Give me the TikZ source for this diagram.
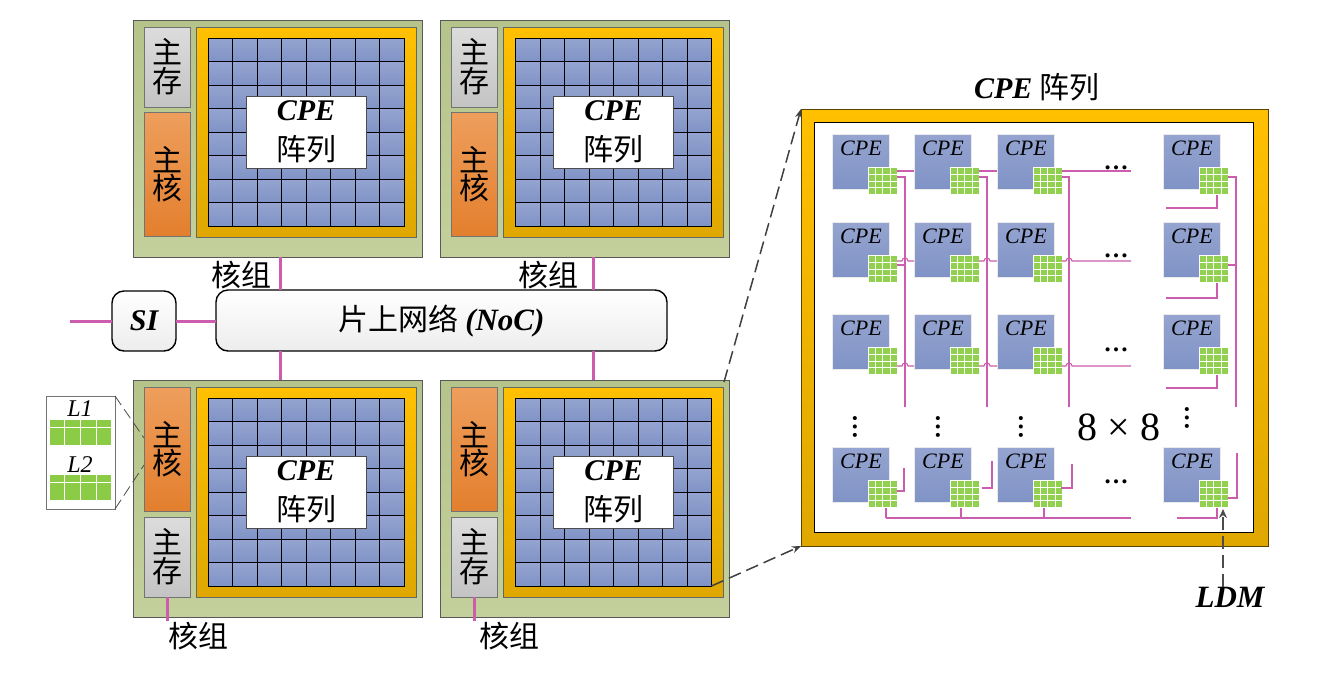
\documentclass[tikz,border=0pt]{standalone}
\usepackage{fontspec}
\setmainfont{Liberation Serif}
\newfontfamily\cjk{Noto Sans CJK SC}
\usetikzlibrary{arrows.meta}
\newcommand{\fsz}[2]{\fontsize{#1}{#2}\selectfont}
\definecolor{wirepink}{HTML}{CC5CAC}
\definecolor{grptop}{HTML}{B5C48A}
\definecolor{grpbot}{HTML}{C3D09B}
\definecolor{memtop}{HTML}{DCDCDC}
\definecolor{membot}{HTML}{C4C4C4}
\definecolor{coretop}{HTML}{EE9E5C}
\definecolor{corebot}{HTML}{E37F2E}
\definecolor{goldtop}{HTML}{FFC000}
\definecolor{goldbot}{HTML}{DFA700}
\definecolor{cpetop}{HTML}{95A4D0}
\definecolor{cpebot}{HTML}{8093C6}
\definecolor{ldmgreen}{HTML}{92D050}
\definecolor{cachegreen}{HTML}{8CCB45}
\definecolor{netbot}{HTML}{EDEDED}
\tikzset{
    box/.style={rectangle, anchor=north west, inner sep=0pt, outer sep=0pt, align=center},
    grpbox/.style={box, draw=black!65, top color=grptop, bottom color=grpbot, minimum width=289pt, minimum height=237pt},
    membox/.style={box, draw=black!55, top color=memtop, bottom color=membot, minimum width=46pt, minimum height=80pt, font=\fsz{30}{29}\cjk},
    corebox/.style={box, draw=black!55, top color=coretop, bottom color=corebot, minimum width=46pt, minimum height=124.5pt, font=\fsz{30}{28}\cjk},
    goldbox/.style={box, draw=black!60, top color=goldtop, bottom color=goldbot},
    cpecell/.style={box, draw=black, line width=1pt, top color=cpetop, bottom color=cpebot, minimum width=24.5pt, minimum height=23.5pt},
    arrbox/.style={box, draw=black!70, fill=white, minimum width=120pt, minimum height=72.5pt, font=\fsz{30}{40}},
    netbox/.style={box, draw=black, line width=1.4pt, rounded corners=12pt, top color=white, bottom color=netbot},
    link/.style={draw=wirepink, line width=3pt},
    wire/.style={draw=wirepink, line width=1.1pt},
    zhlabel/.style={inner sep=0pt, font=\fsz{30}{30}\cjk},
    cpeblock/.style={box, draw=black!8, line width=1pt, top color=cpetop, bottom color=cpebot, minimum width=57.5pt, minimum height=55.5pt},
    cpetext/.style={inner sep=0pt, font=\fsz{22}{22}\itshape},
    ldmcell/.style={box, draw=white, line width=1pt, fill=ldmgreen, minimum width=7.2pt, minimum height=6.8pt},
    lcell/.style={box, draw=white, line width=0.9pt, fill=cachegreen, minimum width=15.7pt},
    dotsh/.style={inner sep=0pt, font=\fsz{25}{25}\bfseries},
    Bdash/.style={draw=black!75, line width=1.5pt, dash pattern=on 13pt off 6pt}
}
\begin{document}
\begin{tikzpicture}[x=1pt, y=-1pt]
    \useasboundingbox (0,0) rectangle (1319,673);

    % core groups
    \foreach \g/\dx/\dy/\memy/\corey in {1/0/0/27/112, 2/307.5/0/27/112, 3/0/360/517/387, 4/307.5/360/517/387} {
        \node[grpbox] (g\g) at (133+\dx,20+\dy) {};
        \node[membox] (m\g) at (144+\dx,\memy) {主\\存};
        \node[corebox] (k\g) at (144+\dx,\corey) {主\\核};
        \node[goldbox, minimum width=220pt, minimum height=209.5pt] (au\g) at (196+\dx,27.5+\dy) {};
        \foreach \i in {0,...,7} {
            \foreach \j in {0,...,7} {
                \node[cpecell] (a\g\i\j) at (208+\dx+24.5*\i,38+\dy+23.5*\j) {};
            }
        }
        \node[arrbox] (w\g) at (246+\dx,96+\dy) {\bfseries\itshape CPE\\\cjk\mdseries\upshape 阵列};
    }

    % network
    \node[netbox, minimum width=64pt, minimum height=60pt, font=\fsz{30}{30}\bfseries\itshape] (si) at (112,291) {SI};
    \node[netbox, minimum width=451pt, minimum height=61pt, font=\fsz{30}{30}] (noc) at (216,290) {\cjk 片上网络 {\rmfamily\fsz{31}{31}\bfseries\itshape (NoC)}};

    \coordinate (ext) at (70,321);
    \coordinate (p1) at (280,0);
    \coordinate (p2) at (593,0);
    \coordinate (p3) at (167,621);
    \coordinate (p4) at (474,621);
    \draw[link] (ext) -- (ext -| si.west);
    \draw[link] (si.east |- ext) -- (noc.west |- ext);
    \draw[link] (g1.south -| p1) -- (noc.north -| p1);
    \draw[link] (g2.south -| p2) -- (noc.north -| p2);
    \draw[link] (noc.south -| p1) -- (g3.north -| p1);
    \draw[link] (noc.south -| p2) -- (g4.north -| p2);
    \draw[link] (m3.south -| p3) -- (p3);
    \draw[link] (m4.south -| p4) -- (p4);

    \node[zhlabel] (n1) at (241,275) {核组};
    \node[zhlabel] (n2) at (548,275) {核组};
    \node[zhlabel] (n3) at (198,636) {核组};
    \node[zhlabel] (n4) at (509,636) {核组};

    % cache box
    \node[box, draw=black!55, line width=1pt, fill=white, minimum width=69pt, minimum height=113pt] (cache) at (46,396) {};
    \node[inner sep=0pt, font=\fsz{24}{24}\itshape] (l1) at (80,409) {L1};
    \node[inner sep=0pt, font=\fsz{24}{24}\itshape] (l2) at (80,465) {L2};
    \foreach \q in {0,...,3} {
        \node[lcell, minimum height=8pt] (la\q) at (49+\q*15.7,419) {};
        \node[lcell, minimum height=18pt] (lb\q) at (49+\q*15.7,427) {};
        \node[lcell, minimum height=8pt] (lc\q) at (49+\q*15.7,474.5) {};
        \node[lcell, minimum height=18pt] (ld\q) at (49+\q*15.7,482.5) {};
    }
    \coordinate (kt) at (144,438);
    \coordinate (kb) at (144,465);
    \draw[black!70, line width=0.8pt, dash pattern=on 11pt off 5pt] (cache.north east) -- (kt);
    \draw[black!70, line width=0.8pt, dash pattern=on 11pt off 5pt] (cache.south east) -- (kb);

    % CPE array
    \node[goldbox, draw=black!65!goldtop, line width=1pt, minimum width=467pt, minimum height=437pt] (big) at (801,109) {};
    \node[box, draw=black, line width=1pt, fill=white, minimum width=439pt, minimum height=410pt] (inner) at (814,122) {};
    \node[inner sep=0pt, font=\fsz{30}{30}\bfseries\itshape] (title) at (1037,87) {CPE {\cjk\mdseries\upshape 阵列}};

    \foreach \r/\cy in {1/134, 2/222, 3/314, 4/447} {
        \foreach \c/\cx in {1/832, 2/914, 3/997, 4/1163} {
            \node[cpeblock] (c\r\c) at (\cx,\cy) {};
            \node[cpetext] (ct\r\c) at (\cx+29,\cy+14) {CPE};
            \foreach \i in {0,...,3} {
                \foreach \j in {0,...,3} {
                    \node[ldmcell] (d\r\c\i\j) at (\cx+36.5+7.2*\i,\cy+33.5+6.8*\j) {};
                }
            }
            \coordinate (h\r\c) at (\cx+65,\cy+37);
            \coordinate (v\r\c) at (\cx+65,\cy+43);
        }
    }
    \coordinate (h21) at (897,261);
    \coordinate (h22) at (979,261);
    \coordinate (h23) at (1062,261);
    \coordinate (h31) at (897,366);
    \coordinate (h32) at (979,366);
    \coordinate (h33) at (1062,366);
    \coordinate (s21) at (897,265);
    \coordinate (s24) at (1228,265);

    % wires of the first rows
    \coordinate (e1) at (905,407);
    \coordinate (e2) at (987,407);
    \coordinate (e3) at (1069,407);
    \coordinate (e4) at (1236,407);
    \coordinate (fr) at (1131,0);
    \foreach \c in {1,2,3,4} {
        \draw[wire] (v1\c) -| (e\c);
    }
    \draw[wire] (s21) -- (s21 -| e1);
    \draw[wire] (s24) -- (s24 -| e4);
    \draw[wire] (h11) -- (h11 -| c12.west);
    \draw[wire] (h12) -- (h12 -| c13.west);
    \draw[wire] (h13) -- (h13 -| fr);
    \foreach \r in {2,3} {
        \draw[wire] (h\r1) -- ++(5,0) arc[start angle=180, end angle=360, radius=3] -- (h\r1 -| c\r2.west);
        \draw[wire] (h\r2) -- ++(5,0) arc[start angle=180, end angle=360, radius=3] -- (h\r2 -| c\r3.west);
        \draw[wire] (h\r3) -- ++(4,0) arc[start angle=180, end angle=360, radius=3] -- (h\r3 -| fr);
    }
    \foreach \r/\ty in {1/208, 2/298, 3/388} {
        \coordinate (t\r) at (1166,\ty);
        \coordinate (tx\r) at (1217,0);
        \draw[wire] (d\r433.south -| tx\r) |- (t\r);
    }

    % wires of the last row
    \foreach \c/\ax/\ay/\bx/\by in {1/897/491/904/468, 2/982/488/992/461, 3/1061/488/1072/464, 4/1228/498/1237/453} {
        \coordinate (u\c) at (\ax,\ay);
        \coordinate (z\c) at (\bx,\by);
        \draw[wire] (u\c) -| (z\c);
    }
    \coordinate (busl) at (886,518);
    \coordinate (busr) at (1131,518);
    \draw[wire] (busl) -- (busr);
    \foreach \c/\bx in {1/886, 2/961, 3/1044} {
        \coordinate (b\c) at (\bx,508);
        \draw[wire] (b\c) -- (b\c |- busl);
    }
    \coordinate (ldl) at (1177,518);
    \coordinate (ldx) at (1217,0);
    \draw[wire] (d4433.south -| ldx) |- (ldl);

    % dots
    \foreach \q/\qy in {1/168, 2/256, 3/350, 4/482} {
        \node[dotsh] (hd\q) at (1116,\qy) {…};
    }
    \foreach \q/\qx/\qy in {1/855/427, 2/938/427, 3/1021/427, 4/1187/418} {
        \node[dotsh, rotate=90] (vd\q) at (\qx,\qy) {…};
    }
    \node[inner sep=0pt, font=\fsz{40}{40}] (size) at (1119,427) {8 × 8};

    % pointers
    \coordinate (src) at (724,382);
    \draw[Bdash, -{Stealth[length=9pt, width=7pt]}] (src) -- (big.north west);
    \draw[Bdash, -{Stealth[length=9pt, width=7pt]}] (a477.south east) -- (big.south west);
    \node[inner sep=0pt, font=\fsz{31}{31}\bfseries\itshape] (ldm) at (1230,597) {LDM};
    \coordinate (ldmtip) at (1223,509);
    \draw[Bdash, draw=black!70, -{Stealth[length=9pt, width=8pt]}] (ldm.north -| ldmtip) -- (ldmtip);
\end{tikzpicture}
\end{document}
